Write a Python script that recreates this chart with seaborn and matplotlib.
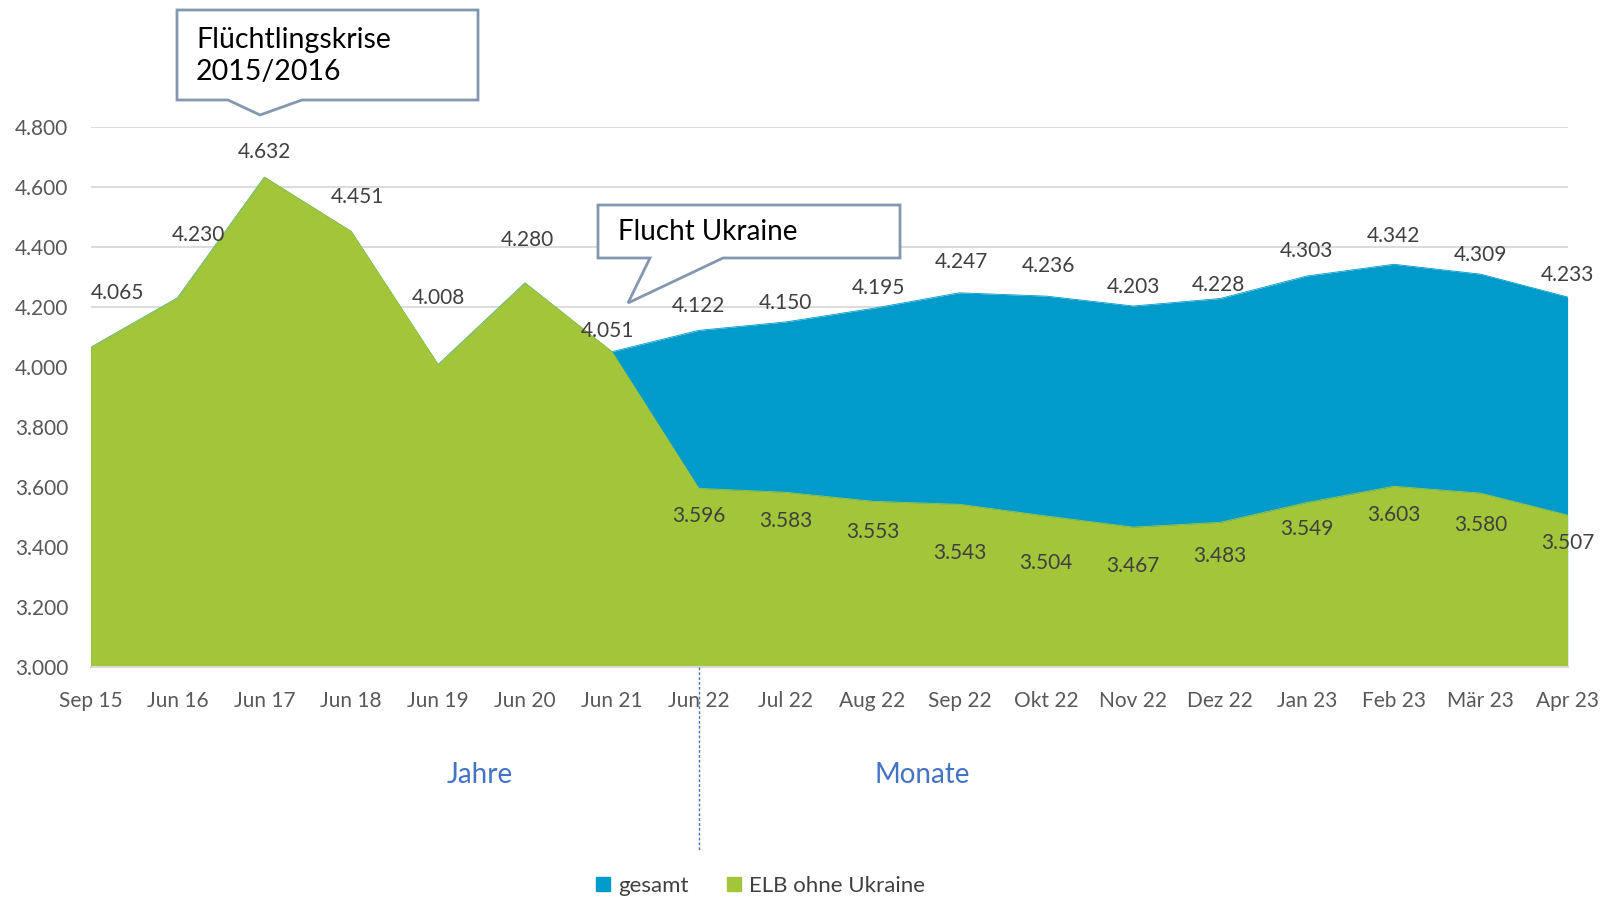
import matplotlib
matplotlib.use("Agg")
import matplotlib.pyplot as plt
from matplotlib.lines import Line2D
from matplotlib.patches import Polygon
import seaborn as sns
import pandas as pd

# chart data
categories = ["Sep 15", "Jun 16", "Jun 17", "Jun 18", "Jun 19", "Jun 20", "Jun 21",
              "Jun 22", "Jul 22", "Aug 22", "Sep 22", "Okt 22", "Nov 22", "Dez 22",
              "Jan 23", "Feb 23", "Mär 23", "Apr 23"]
gesamt = [4065, 4230, 4632, 4451, 4008, 4280, 4051,
          4122, 4150, 4195, 4247, 4236, 4203, 4228, 4303, 4342, 4309, 4233]
elb_ohne_ukraine = [4065, 4230, 4632, 4451, 4008, 4280, 4051,
                    3596, 3583, 3553, 3543, 3504, 3467, 3483, 3549, 3603, 3580, 3507]
y_ticks = [3000, 3200, 3400, 3600, 3800, 4000, 4200, 4400, 4600, 4800]

BLUE = "#009BCB"
GREEN = "#A2C539"
TXT = "#404040"
TICK = "#595959"
GRID = "#D9D9D9"
ACCENT = "#4472C4"
BOX = "#8497B0"

sns.set_style("white")
plt.rcParams["font.family"] = ["Lato", "DejaVu Sans"]

W, H = 1615, 897
fig = plt.figure(figsize=(W / 100, H / 100), dpi=100)
ax = fig.add_axes([90.6 / W, 1 - 667.4 / H, (1567.6 - 90.6) / W, (667.4 - 126.7) / H])

df = pd.DataFrame({"x": range(len(categories)), "gesamt": gesamt, "elb": elb_ohne_ukraine})

ax.fill_between(df["x"], 3000, df["gesamt"], color=BLUE, linewidth=0, zorder=2)
ax.fill_between(df["x"], 3000, df["elb"], color=GREEN, linewidth=0, zorder=3)
sns.lineplot(data=df, x="x", y="gesamt", color=BLUE, linewidth=0.6, ax=ax, zorder=2)
sns.lineplot(data=df, x="x", y="elb", color=GREEN, linewidth=0.6, ax=ax, zorder=3)

ax.set_xlim(0, len(categories) - 1)
ax.set_ylim(3000, 4800)
ax.set_xticks(df["x"])
ax.set_xticklabels(categories, fontsize=15, color=TICK)
ax.set_yticks(y_ticks)
ax.set_yticklabels([f"{v:,.0f}".replace(",", ".") for v in y_ticks], fontsize=15, color=TICK)
ax.set_xlabel("")
ax.set_ylabel("")
ax.grid(axis="y", color=GRID, linewidth=1.3, zorder=1)
for s in ["left", "right", "top"]:
    ax.spines[s].set_visible(False)
ax.spines["bottom"].set_color(GRID)
ax.spines["bottom"].set_linewidth(1.5)
ax.spines["bottom"].set_zorder(4)
ax.tick_params(axis="x", colors=GRID, length=8, width=1.3, direction="out", pad=9, labelcolor=TICK)
ax.tick_params(axis="y", length=0, pad=16)

# data labels (offset in pixels from the point to the label centre)
g_dy = [54, 63, 25, 35, 67, 43, 21, 24, 19, 20, 31, 30, 19, 14, 25, 28, 19, 22]
g_dx = [27, 21, 0, 6, 0, 2, -4, 0, 0, 6, 2, 2, 0, -2, 0, 0, 0, 0]
e_dy = [28, 29, 31, 49, 47, 39, 34, 27, 29, 32, 28]
for i, v in enumerate(gesamt):
    ax.annotate(f"{v:,}".replace(",", "."), (i, v), xytext=(g_dx[i], g_dy[i]),
                textcoords="offset pixels", ha="center", va="center",
                fontsize=15, color=TXT, zorder=6, annotation_clip=False)
for j, i in enumerate(range(7, len(categories))):
    v = elb_ohne_ukraine[i]
    ax.annotate(f"{v:,}".replace(",", "."), (i, v), xytext=(0, -e_dy[j]),
                textcoords="offset pixels", ha="center", va="center",
                fontsize=15, color=TXT, zorder=6, annotation_clip=False)


def fx(px):
    return px / W


def fy(py):
    return 1 - py / H


def callout(box, base, tip, text, tx, ty, size):
    x0, y0, x1, y1 = box
    pts = [(x0, y0), (x1, y0), (x1, y1), (base[1], y1), tip, (base[0], y1), (x0, y1)]
    poly = Polygon([(fx(a), fy(b)) for a, b in pts], closed=True, facecolor="white",
                   edgecolor=BOX, linewidth=2, transform=fig.transFigure, zorder=10)
    fig.add_artist(poly)
    fig.text(fx(tx), fy(ty), text, fontsize=size, color="black", ha="left", va="center",
             linespacing=1.25, zorder=11)


callout((177, 10, 478, 100), (228, 302), (260, 115), "Flüchtlingskrise\n2015/2016", 196, 56, 20.5)
callout((598, 205, 900, 258), (650, 723), (628, 303), "Flucht Ukraine", 618, 232, 20)

# split between years and months
ax.plot([7, 7], [0, -0.34], transform=ax.get_xaxis_transform(), color=ACCENT,
        linestyle=(0, (2, 1.5)), linewidth=1, clip_on=False, zorder=5)
fig.text(fx(480), fy(775), "Jahre", fontsize=20, color=ACCENT, ha="center", va="center")
fig.text(fx(922), fy(775), "Monate", fontsize=20, color=ACCENT, ha="center", va="center")

handles = [Line2D([], [], marker="s", linestyle="", color=BLUE, markersize=10),
           Line2D([], [], marker="s", linestyle="", color=GREEN, markersize=10)]
fig.legend(handles, ["gesamt", "ELB ohne Ukraine"], loc="center", bbox_to_anchor=(fx(753), fy(886)),
           ncol=2, frameon=False, fontsize=16, handletextpad=-0.3, columnspacing=1.0,
           labelcolor=TXT, borderaxespad=0)

fig.savefig("out.png", dpi=100)
